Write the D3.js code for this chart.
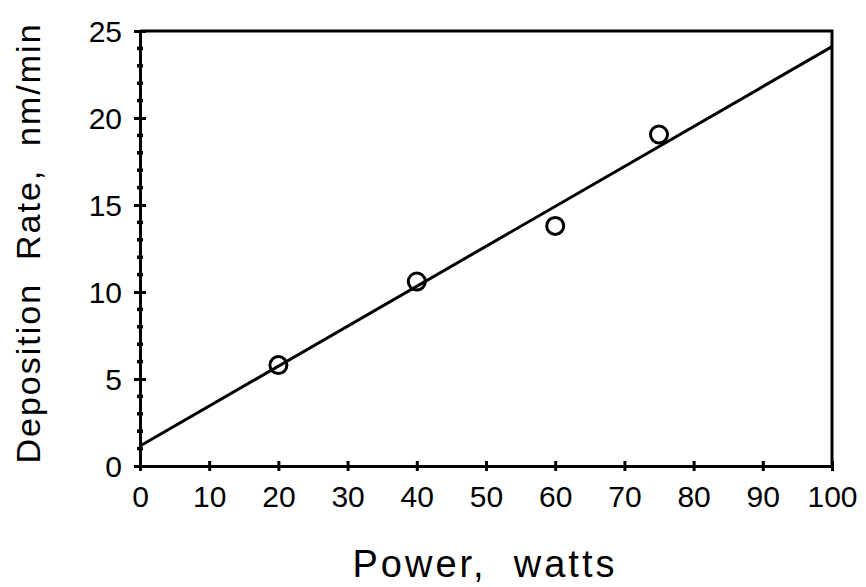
<!DOCTYPE html>
<html>
<head>
<meta charset="utf-8">
<script src="https://cdn.jsdelivr.net/npm/d3@7"></script>
<style>
  body { margin: 0; background: #fff; }
  text { font-family: "Liberation Sans", Arial, sans-serif; fill: #000; }
</style>
</head>
<body>
<div id="chart"></div>
<script>
/* DATA */
const powerWatts = [20, 40, 60, 75];
const depositionRate = [5.8, 10.6, 13.8, 19.05];
const fitPower = [0, 100];
const fitRate = [1.15, 24.1];
const xTicks = [0, 10, 20, 30, 40, 50, 60, 70, 80, 90, 100];
const yTicks = [0, 5, 10, 15, 20, 25];
const yMinorTicks = d3.range(0, 26, 1).filter(d => d % 5 !== 0);

const width = 866, height = 587;
const margin = { top: 31, right: 34, bottom: 121, left: 140 };

const svg = d3.select("#chart").append("svg")
  .attr("width", width)
  .attr("height", height);

const xScale = d3.scaleLinear().domain([0, 100])
  .range([margin.left, width - margin.right]);
const yScale = d3.scaleLinear().domain([0, 25])
  .range([height - margin.bottom, margin.top]);

const stroke = "#000";
const sw = 3;

// frame (top and right)
svg.append("path")
  .attr("d", `M${xScale(0)},${yScale(25)}H${xScale(100)}V${yScale(0)}`)
  .attr("fill", "none").attr("stroke", stroke).attr("stroke-width", sw);

// x axis
const xAxis = svg.append("g")
  .attr("transform", `translate(0,${yScale(0)})`)
  .call(d3.axisBottom(xScale).tickValues(xTicks).tickSize(0).tickPadding(0).tickFormat(d3.format("d")));
xAxis.select(".domain").attr("stroke-width", sw);
xAxis.selectAll(".tick line").attr("y1", -5).attr("y2", 5).attr("stroke-width", sw);
xAxis.selectAll(".tick text")
  .attr("y", 41).attr("dy", 0)
  .style("font-size", "30px");

// y axis
const yAxis = svg.append("g")
  .attr("transform", `translate(${xScale(0)},0)`)
  .call(d3.axisLeft(yScale).tickValues(yTicks).tickSize(0).tickPadding(0).tickFormat(d3.format("d")));
yAxis.select(".domain").attr("stroke-width", sw);
yAxis.selectAll(".tick line").attr("x1", -6).attr("x2", 6).attr("stroke-width", sw);
yAxis.selectAll(".tick text")
  .attr("x", -18).attr("dy", "0.36em")
  .style("font-size", "30px");

// minor ticks on y
yAxis.selectAll("line.minor")
  .data(yMinorTicks)
  .join("line")
  .attr("class", "minor")
  .attr("x1", -3).attr("x2", 3)
  .attr("y1", d => yScale(d)).attr("y2", d => yScale(d))
  .attr("stroke", stroke).attr("stroke-width", 3.5);

// fit line
const line = d3.line()
  .x(d => xScale(d[0]))
  .y(d => yScale(d[1]));
svg.append("path")
  .datum(d3.zip(fitPower, fitRate))
  .attr("d", line)
  .attr("fill", "none")
  .attr("stroke", stroke)
  .attr("stroke-width", sw);

// data points
svg.selectAll("circle.pt")
  .data(d3.zip(powerWatts, depositionRate))
  .join("circle")
  .attr("class", "pt")
  .attr("cx", d => xScale(d[0]))
  .attr("cy", d => yScale(d[1]))
  .attr("r", 8.5)
  .attr("fill", "none")
  .attr("stroke", stroke)
  .attr("stroke-width", 3);

// axis titles
svg.append("text")
  .attr("x", 485).attr("y", 577)
  .attr("text-anchor", "middle")
  .style("font-size", "38px")
  .style("letter-spacing", "3px")
  .style("white-space", "pre")
  .text("Power,  watts");

svg.append("text")
  .attr("transform", `translate(40,243) rotate(-90)`)
  .attr("text-anchor", "middle")
  .style("font-size", "34px")
  .style("letter-spacing", "2px")
  .style("white-space", "pre")
  .text("Deposition  Rate,  nm/min");
</script>
</body>
</html>
